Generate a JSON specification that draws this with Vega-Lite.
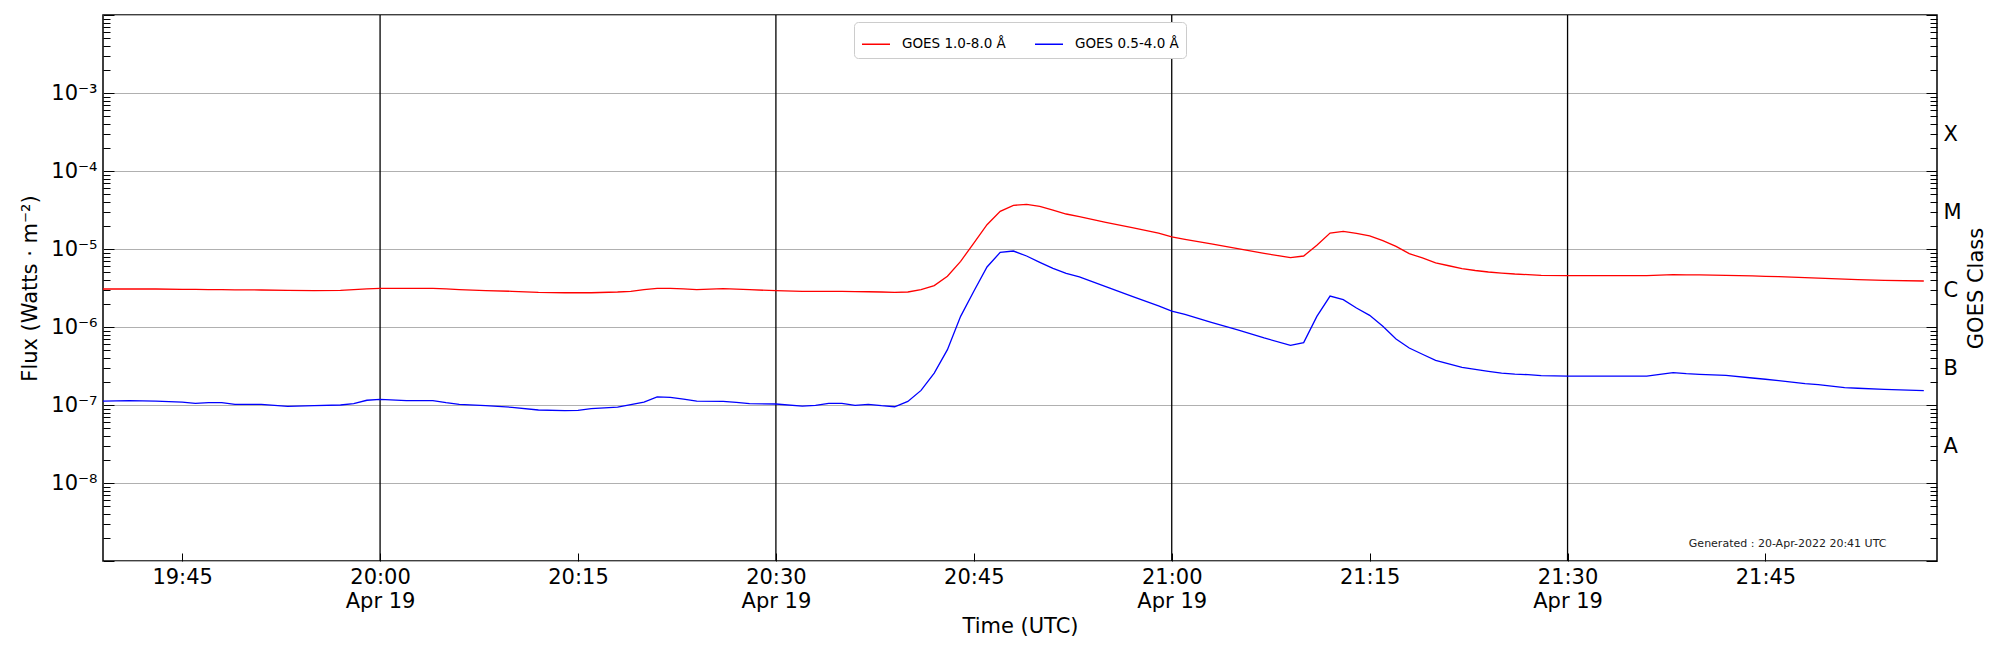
{
  "$schema": "https://vega.github.io/schema/vega-lite/v6.json",
  "autosize": {"type": "none"},
  "padding": {"left": 103, "top": 15, "right": 63, "bottom": 89},
  "width": 1834,
  "height": 546,
  "background": "white",
  "datasets": {
    "goes": [
      {"time": "2022-04-19T19:39:00Z", "long": 3.07e-6, "short": 1.12e-7},
      {"time": "2022-04-19T19:41:00Z", "long": 3.07e-6, "short": 1.14e-7},
      {"time": "2022-04-19T19:43:00Z", "long": 3.07e-6, "short": 1.12e-7},
      {"time": "2022-04-19T19:45:00Z", "long": 3.04e-6, "short": 1.09e-7},
      {"time": "2022-04-19T19:46:00Z", "long": 3.03e-6, "short": 1.05e-7},
      {"time": "2022-04-19T19:47:00Z", "long": 3.02e-6, "short": 1.07e-7},
      {"time": "2022-04-19T19:48:00Z", "long": 3.01e-6, "short": 1.07e-7},
      {"time": "2022-04-19T19:49:00Z", "long": 3.00e-6, "short": 1.02e-7},
      {"time": "2022-04-19T19:51:00Z", "long": 2.98e-6, "short": 1.02e-7},
      {"time": "2022-04-19T19:53:00Z", "long": 2.94e-6, "short": 9.6e-8},
      {"time": "2022-04-19T19:55:00Z", "long": 2.92e-6, "short": 9.8e-8},
      {"time": "2022-04-19T19:57:00Z", "long": 2.95e-6, "short": 1.0e-7},
      {"time": "2022-04-19T19:58:00Z", "long": 3.01e-6, "short": 1.04e-7},
      {"time": "2022-04-19T19:59:00Z", "long": 3.08e-6, "short": 1.15e-7},
      {"time": "2022-04-19T20:00:00Z", "long": 3.13e-6, "short": 1.18e-7},
      {"time": "2022-04-19T20:02:00Z", "long": 3.13e-6, "short": 1.14e-7},
      {"time": "2022-04-19T20:04:00Z", "long": 3.13e-6, "short": 1.14e-7},
      {"time": "2022-04-19T20:05:00Z", "long": 3.08e-6, "short": 1.07e-7},
      {"time": "2022-04-19T20:06:00Z", "long": 3.01e-6, "short": 1.02e-7},
      {"time": "2022-04-19T20:08:00Z", "long": 2.92e-6, "short": 9.8e-8},
      {"time": "2022-04-19T20:10:00Z", "long": 2.87e-6, "short": 9.33e-8},
      {"time": "2022-04-19T20:12:00Z", "long": 2.78e-6, "short": 8.63e-8},
      {"time": "2022-04-19T20:14:00Z", "long": 2.75e-6, "short": 8.46e-8},
      {"time": "2022-04-19T20:15:00Z", "long": 2.75e-6, "short": 8.55e-8},
      {"time": "2022-04-19T20:16:00Z", "long": 2.75e-6, "short": 8.97e-8},
      {"time": "2022-04-19T20:18:00Z", "long": 2.81e-6, "short": 9.42e-8},
      {"time": "2022-04-19T20:19:00Z", "long": 2.87e-6, "short": 1.01e-7},
      {"time": "2022-04-19T20:20:00Z", "long": 3.01e-6, "short": 1.09e-7},
      {"time": "2022-04-19T20:21:00Z", "long": 3.13e-6, "short": 1.27e-7},
      {"time": "2022-04-19T20:22:00Z", "long": 3.13e-6, "short": 1.25e-7},
      {"time": "2022-04-19T20:23:00Z", "long": 3.08e-6, "short": 1.19e-7},
      {"time": "2022-04-19T20:24:00Z", "long": 3.01e-6, "short": 1.12e-7},
      {"time": "2022-04-19T20:26:00Z", "long": 3.10e-6, "short": 1.11e-7},
      {"time": "2022-04-19T20:27:00Z", "long": 3.05e-6, "short": 1.08e-7},
      {"time": "2022-04-19T20:28:00Z", "long": 3.01e-6, "short": 1.04e-7},
      {"time": "2022-04-19T20:30:00Z", "long": 2.92e-6, "short": 1.03e-7},
      {"time": "2022-04-19T20:32:00Z", "long": 2.87e-6, "short": 9.7e-8},
      {"time": "2022-04-19T20:33:00Z", "long": 2.87e-6, "short": 9.9e-8},
      {"time": "2022-04-19T20:34:00Z", "long": 2.87e-6, "short": 1.05e-7},
      {"time": "2022-04-19T20:35:00Z", "long": 2.86e-6, "short": 1.05e-7},
      {"time": "2022-04-19T20:36:00Z", "long": 2.84e-6, "short": 9.9e-8},
      {"time": "2022-04-19T20:37:00Z", "long": 2.83e-6, "short": 1.02e-7},
      {"time": "2022-04-19T20:38:00Z", "long": 2.81e-6, "short": 9.8e-8},
      {"time": "2022-04-19T20:39:00Z", "long": 2.78e-6, "short": 9.5e-8},
      {"time": "2022-04-19T20:40:00Z", "long": 2.81e-6, "short": 1.11e-7},
      {"time": "2022-04-19T20:41:00Z", "long": 3.01e-6, "short": 1.54e-7},
      {"time": "2022-04-19T20:42:00Z", "long": 3.39e-6, "short": 2.57e-7},
      {"time": "2022-04-19T20:43:00Z", "long": 4.47e-6, "short": 5.12e-7},
      {"time": "2022-04-19T20:44:00Z", "long": 6.95e-6, "short": 1.37e-6},
      {"time": "2022-04-19T20:45:00Z", "long": 1.19e-5, "short": 2.87e-6},
      {"time": "2022-04-19T20:46:00Z", "long": 2.05e-5, "short": 5.88e-6},
      {"time": "2022-04-19T20:47:00Z", "long": 3.04e-5, "short": 9.06e-6},
      {"time": "2022-04-19T20:48:00Z", "long": 3.63e-5, "short": 9.42e-6},
      {"time": "2022-04-19T20:49:00Z", "long": 3.74e-5, "short": 8.13e-6},
      {"time": "2022-04-19T20:50:00Z", "long": 3.52e-5, "short": 6.75e-6},
      {"time": "2022-04-19T20:51:00Z", "long": 3.16e-5, "short": 5.65e-6},
      {"time": "2022-04-19T20:52:00Z", "long": 2.81e-5, "short": 4.88e-6},
      {"time": "2022-04-19T20:53:00Z", "long": 2.60e-5, "short": 4.38e-6},
      {"time": "2022-04-19T20:55:00Z", "long": 2.20e-5, "short": 3.29e-6},
      {"time": "2022-04-19T20:57:00Z", "long": 1.88e-5, "short": 2.47e-6},
      {"time": "2022-04-19T20:59:00Z", "long": 1.60e-5, "short": 1.86e-6},
      {"time": "2022-04-19T21:00:00Z", "long": 1.43e-5, "short": 1.60e-6},
      {"time": "2022-04-19T21:01:00Z", "long": 1.33e-5, "short": 1.45e-6},
      {"time": "2022-04-19T21:03:00Z", "long": 1.16e-5, "short": 1.15e-6},
      {"time": "2022-04-19T21:05:00Z", "long": 1.01e-5, "short": 9.16e-7},
      {"time": "2022-04-19T21:07:00Z", "long": 8.8e-6, "short": 7.23e-7},
      {"time": "2022-04-19T21:09:00Z", "long": 7.74e-6, "short": 5.82e-7},
      {"time": "2022-04-19T21:10:00Z", "long": 8.13e-6, "short": 6.3e-7},
      {"time": "2022-04-19T21:11:00Z", "long": 1.12e-5, "short": 1.37e-6},
      {"time": "2022-04-19T21:12:00Z", "long": 1.60e-5, "short": 2.49e-6},
      {"time": "2022-04-19T21:13:00Z", "long": 1.68e-5, "short": 2.24e-6},
      {"time": "2022-04-19T21:14:00Z", "long": 1.59e-5, "short": 1.75e-6},
      {"time": "2022-04-19T21:15:00Z", "long": 1.47e-5, "short": 1.41e-6},
      {"time": "2022-04-19T21:16:00Z", "long": 1.28e-5, "short": 1.02e-6},
      {"time": "2022-04-19T21:17:00Z", "long": 1.08e-5, "short": 7.0e-7},
      {"time": "2022-04-19T21:18:00Z", "long": 8.71e-6, "short": 5.38e-7},
      {"time": "2022-04-19T21:19:00Z", "long": 7.67e-6, "short": 4.47e-7},
      {"time": "2022-04-19T21:20:00Z", "long": 6.63e-6, "short": 3.74e-7},
      {"time": "2022-04-19T21:21:00Z", "long": 6.10e-6, "short": 3.36e-7},
      {"time": "2022-04-19T21:22:00Z", "long": 5.60e-6, "short": 3.04e-7},
      {"time": "2022-04-19T21:23:00Z", "long": 5.30e-6, "short": 2.86e-7},
      {"time": "2022-04-19T21:24:00Z", "long": 5.07e-6, "short": 2.70e-7},
      {"time": "2022-04-19T21:25:00Z", "long": 4.92e-6, "short": 2.57e-7},
      {"time": "2022-04-19T21:26:00Z", "long": 4.78e-6, "short": 2.49e-7},
      {"time": "2022-04-19T21:27:00Z", "long": 4.69e-6, "short": 2.45e-7},
      {"time": "2022-04-19T21:28:00Z", "long": 4.59e-6, "short": 2.38e-7},
      {"time": "2022-04-19T21:30:00Z", "long": 4.55e-6, "short": 2.35e-7},
      {"time": "2022-04-19T21:33:00Z", "long": 4.55e-6, "short": 2.35e-7},
      {"time": "2022-04-19T21:36:00Z", "long": 4.55e-6, "short": 2.35e-7},
      {"time": "2022-04-19T21:37:00Z", "long": 4.62e-6, "short": 2.47e-7},
      {"time": "2022-04-19T21:38:00Z", "long": 4.69e-6, "short": 2.60e-7},
      {"time": "2022-04-19T21:39:00Z", "long": 4.67e-6, "short": 2.52e-7},
      {"time": "2022-04-19T21:40:00Z", "long": 4.65e-6, "short": 2.47e-7},
      {"time": "2022-04-19T21:42:00Z", "long": 4.59e-6, "short": 2.40e-7},
      {"time": "2022-04-19T21:44:00Z", "long": 4.51e-6, "short": 2.22e-7},
      {"time": "2022-04-19T21:45:00Z", "long": 4.47e-6, "short": 2.14e-7},
      {"time": "2022-04-19T21:46:00Z", "long": 4.42e-6, "short": 2.05e-7},
      {"time": "2022-04-19T21:47:00Z", "long": 4.36e-6, "short": 1.97e-7},
      {"time": "2022-04-19T21:48:00Z", "long": 4.29e-6, "short": 1.88e-7},
      {"time": "2022-04-19T21:49:00Z", "long": 4.23e-6, "short": 1.82e-7},
      {"time": "2022-04-19T21:50:00Z", "long": 4.17e-6, "short": 1.75e-7},
      {"time": "2022-04-19T21:51:00Z", "long": 4.11e-6, "short": 1.67e-7},
      {"time": "2022-04-19T21:52:00Z", "long": 4.05e-6, "short": 1.64e-7},
      {"time": "2022-04-19T21:54:00Z", "long": 3.97e-6, "short": 1.59e-7},
      {"time": "2022-04-19T21:57:00Z", "long": 3.89e-6, "short": 1.53e-7}
    ],
    "daylines": [
      {"time": "2022-04-19T20:00:00Z"},
      {"time": "2022-04-19T20:30:00Z"},
      {"time": "2022-04-19T21:00:00Z"},
      {"time": "2022-04-19T21:30:00Z"}
    ],
    "note": [
      {"time": "2022-04-19T21:54:10Z", "flux": 1.66e-9, "text": "Generated : 20-Apr-2022 20:41 UTC"}
    ]
  },
  "layer": [
    {
      "data": {"name": "daylines"},
      "mark": {"type": "rule", "color": "black", "strokeWidth": 1.3},
      "encoding": {
        "x": {"field": "time", "type": "temporal"}
      }
    },
    {
      "data": {"name": "goes"},
      "transform": [
        {"fold": ["long", "short"], "as": ["channel", "flux"]},
        {"calculate": "datum.channel === 'long' ? 'GOES 1.0-8.0 Å' : 'GOES 0.5-4.0 Å'", "as": "series"}
      ],
      "mark": {"type": "line", "strokeWidth": 1.3, "clip": true},
      "encoding": {
        "x": {
          "field": "time",
          "type": "temporal",
          "title": "Time (UTC)",
          "scale": {
            "type": "utc",
            "domain": [
              {"year": 2022, "month": 4, "date": 19, "hours": 19, "minutes": 39, "utc": true},
              {"year": 2022, "month": 4, "date": 19, "hours": 21, "minutes": 58, "utc": true}
            ]
          },
          "axis": {
            "values": [
              {"year": 2022, "month": 4, "date": 19, "hours": 19, "minutes": 45, "utc": true},
              {"year": 2022, "month": 4, "date": 19, "hours": 20, "minutes": 0, "utc": true},
              {"year": 2022, "month": 4, "date": 19, "hours": 20, "minutes": 15, "utc": true},
              {"year": 2022, "month": 4, "date": 19, "hours": 20, "minutes": 30, "utc": true},
              {"year": 2022, "month": 4, "date": 19, "hours": 20, "minutes": 45, "utc": true},
              {"year": 2022, "month": 4, "date": 19, "hours": 21, "minutes": 0, "utc": true},
              {"year": 2022, "month": 4, "date": 19, "hours": 21, "minutes": 15, "utc": true},
              {"year": 2022, "month": 4, "date": 19, "hours": 21, "minutes": 30, "utc": true},
              {"year": 2022, "month": 4, "date": 19, "hours": 21, "minutes": 45, "utc": true}
            ],
            "labelExpr": "utcminutes(datum.value) % 30 == 0 ? [utcFormat(datum.value, '%H:%M'), utcFormat(datum.value, '%b %d')] : utcFormat(datum.value, '%H:%M')",
            "grid": false,
            "domain": false,
            "tickSize": -8,
            "tickColor": "black",
            "tickWidth": 1,
            "labelPadding": 13,
            "labelLineHeight": 24,
            "labelFlush": false,
            "labelOverlap": false,
            "labelBaseline": "top",
            "titlePadding": 4
          }
        },
        "y": {
          "field": "flux",
          "type": "quantitative",
          "title": "Flux (Watts · m⁻²)",
          "scale": {"type": "log", "domain": [1e-9, 1e-2]},
          "axis": {
            "orient": "left",
            "values": [1e-9, 2e-9, 3e-9, 4e-9, 5e-9, 6e-9, 7e-9, 8e-9, 9e-9, 1e-8, 2e-8, 3e-8, 4e-8, 5e-8, 6e-8, 7e-8, 8e-8, 9e-8, 1e-7, 2e-7, 3e-7, 4e-7, 5e-7, 6e-7, 7e-7, 8e-7, 9e-7, 1e-6, 2e-6, 3e-6, 4e-6, 5e-6, 6e-6, 7e-6, 8e-6, 9e-6, 1e-5, 2e-5, 3e-5, 4e-5, 5e-5, 6e-5, 7e-5, 8e-5, 9e-5, 1e-4, 2e-4, 3e-4, 4e-4, 5e-4, 6e-4, 7e-4, 8e-4, 9e-4, 1e-3, 2e-3, 3e-3, 4e-3, 5e-3, 6e-3, 7e-3, 8e-3, 9e-3, 1e-2],
            "labelExpr": "abs(log(datum.value)/LN10 - round(log(datum.value)/LN10)) < 0.01 && round(log(datum.value)/LN10) >= -8 && round(log(datum.value)/LN10) <= -3 ? '10⁻' + ['⁰','¹','²','³','⁴','⁵','⁶','⁷','⁸','⁹'][-round(log(datum.value)/LN10)] : ''",
            "tickSize": {"condition": {"test": "abs(log(datum.value)/LN10 - round(log(datum.value)/LN10)) < 0.01", "value": -11}, "value": -7},
            "grid": true,
            "gridColor": "#b0b0b0",
            "gridWidth": 1,
            "gridOpacity": {"condition": {"test": "abs(log(datum.value)/LN10 - round(log(datum.value)/LN10)) < 0.01", "value": 1}, "value": 0},
            "domain": false,
            "tickColor": "black",
            "labelPadding": 17,
            "labelOverlap": false,
            "labelFlush": false,
            "labelBound": false,
            "titlePadding": 10
          }
        },
        "color": {
          "field": "series",
          "type": "nominal",
          "scale": {"domain": ["GOES 1.0-8.0 Å", "GOES 0.5-4.0 Å"], "range": ["#ff0000", "#0000ff"]},
          "legend": {
            "title": null,
            "orient": "none",
            "legendX": 751,
            "legendY": 7,
            "direction": "horizontal",
            "symbolType": "stroke",
            "symbolStrokeWidth": 1.5,
            "symbolSize": 784,
            "labelFontSize": 13.5,
            "labelOffset": 11,
            "columnPadding": 26,
            "padding": 7,
            "fillColor": "white",
            "strokeColor": "#cccccc",
            "cornerRadius": 4
          }
        }
      }
    },
    {
      "data": {"name": "note"},
      "mark": {"type": "text", "align": "right", "baseline": "middle", "fontSize": 11, "color": "#222222"},
      "encoding": {
        "x": {"field": "time", "type": "temporal"},
        "y": {
          "field": "flux",
          "type": "quantitative",
          "title": "GOES Class",
          "scale": {"type": "log", "domain": [1e-9, 1e-2]},
          "axis": {
            "orient": "right",
            "values": [1e-9, 2e-9, 3e-9, 4e-9, 5e-9, 6e-9, 7e-9, 8e-9, 9e-9, 1e-8, 2e-8, 3e-8, 3.1623e-8, 4e-8, 5e-8, 6e-8, 7e-8, 8e-8, 9e-8, 1e-7, 2e-7, 3e-7, 3.1623e-7, 4e-7, 5e-7, 6e-7, 7e-7, 8e-7, 9e-7, 1e-6, 2e-6, 3e-6, 3.1623e-6, 4e-6, 5e-6, 6e-6, 7e-6, 8e-6, 9e-6, 1e-5, 2e-5, 3e-5, 3.1623e-5, 4e-5, 5e-5, 6e-5, 7e-5, 8e-5, 9e-5, 1e-4, 2e-4, 3e-4, 3.1623e-4, 4e-4, 5e-4, 6e-4, 7e-4, 8e-4, 9e-4, 1e-3, 2e-3, 3e-3, 4e-3, 5e-3, 6e-3, 7e-3, 8e-3, 9e-3, 1e-2],
            "labelExpr": "abs(log(datum.value)/LN10 - round(log(datum.value)/LN10)) > 0.49 ? ['X','M','C','B','A'][indexof([-4,-5,-6,-7,-8], floor(log(datum.value)/LN10))] : ''",
            "tickSize": {"condition": {"test": "abs(log(datum.value)/LN10 - round(log(datum.value)/LN10)) < 0.01", "value": -11}, "value": -7},
            "tickOpacity": {"condition": {"test": "abs(log(datum.value)/LN10 - round(log(datum.value)/LN10)) > 0.49", "value": 0}, "value": 1},
            "tickColor": "black",
            "grid": false,
            "domain": false,
            "labelPadding": 13,
            "labelOffset": 3,
            "labelOverlap": false,
            "labelFlush": false,
            "labelBound": false,
            "titleAngle": 270,
            "titlePadding": 25
          }
        },
        "text": {"field": "text"}
      }
    }
  ],
  "resolve": {"axis": {"y": "independent"}},
  "config": {
    "font": "DejaVu Sans",
    "view": {"stroke": "black", "strokeWidth": 1.5},
    "axis": {
      "labelFont": "DejaVu Sans",
      "labelFontSize": 21,
      "labelColor": "black",
      "titleFont": "DejaVu Sans",
      "titleFontSize": 21,
      "titleFontWeight": "normal",
      "titleColor": "black"
    },
    "legend": {"labelFont": "DejaVu Sans", "labelColor": "black"}
  }
}
